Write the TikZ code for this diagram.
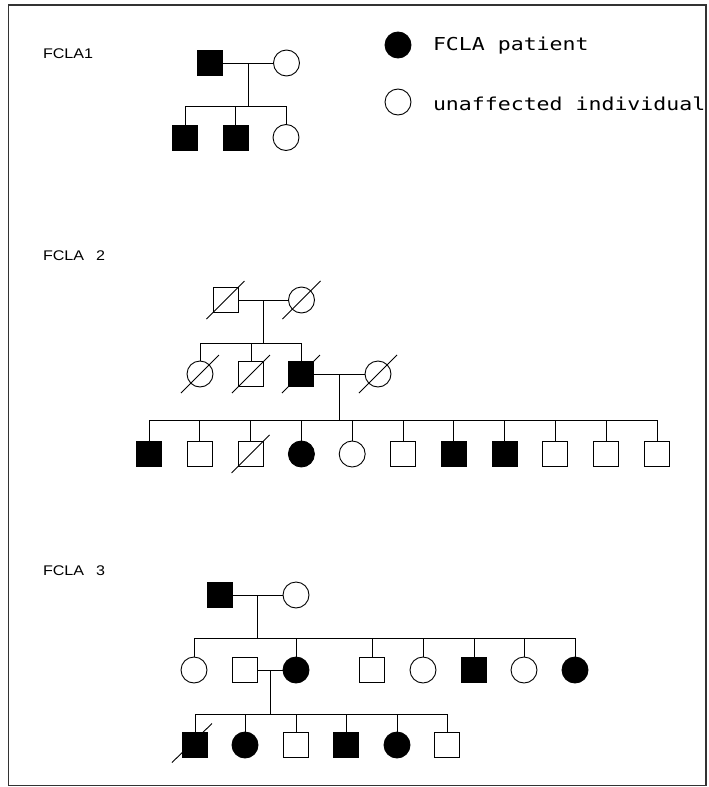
\documentclass[tikz,border=0pt]{standalone}
\usepackage{fontspec}
\newfontfamily\legfont[FakeStretch=1.21]{DejaVu Sans Mono}
\newfontfamily\labfont[FakeStretch=1.15]{Liberation Sans}
\usetikzlibrary{calc}
\newcommand\deadmark[1]{\draw[ln] ([shift={(-19,19)}]#1.center) -- ([shift={(19,-19)}]#1.center);}
\begin{document}
\begin{tikzpicture}[x=1pt,y=-1pt,
  every node/.style={inner sep=0pt, outer sep=0pt},
  person/.style={draw=black, line width=0.9pt},
  sq/.style={person, rectangle, minimum size=25pt},
  ci/.style={person, circle, minimum size=26pt},
  aff/.style={fill=black},
  ln/.style={line width=0.9pt},
  lab/.style={anchor=base west, font=\labfont\fontsize{14}{14}\selectfont},
  leg/.style={anchor=base west, font=\legfont\fontsize{17.8}{18}\selectfont}]
\useasboundingbox (0,0) rectangle (709,787);
\draw[line width=1.3pt, draw=black!80] (8.5,5) rectangle (706,785.5);

% ---------- FCLA1 ----------
\node[lab] (l1) at (43,58) {FCLA1};
\node[sq,aff] (a1) at (210,63) {};
\node[ci] (a2) at (286.5,63) {};
\node[sq,aff] (a3) at (185,137.5) {};
\node[sq,aff] (a4) at (235.5,137.5) {};
\node[ci] (a5) at (286,137.5) {};
\draw[ln] (a1.east) -- (a2.west);
\coordinate (am) at (248,63);
\coordinate (as) at (248,106);
\draw[ln] (am) -- (as);
\draw[ln] (a3.north |- as) -- (a5.north |- as);
\foreach \n in {a3,a4,a5} \draw[ln] (\n.north |- as) -- (\n.north);

% ---------- legend ----------
\node[ci,aff] (g1) at (398,45) {};
\node[leg] (gt1) at (433,50) {FCLA patient};
\node[ci] (g2) at (398,102) {};
\node[leg] (gt2) at (433,110) {unaffected individual};

% ---------- FCLA 2 ----------
\node[lab] (l2) at (43,260) {FCLA\hspace{12pt}2};
\node[sq] (b1) at (225.5,300) {};
\node[ci] (b2) at (301.5,300) {};
\node[ci] (b3) at (200,374) {};
\node[sq] (b4) at (251,374) {};
\node[sq,aff] (b5) at (301,374) {};
\node[ci] (b6) at (378,374) {};
\foreach \n in {b1,b2,b3,b4,b5,b6} \deadmark{\n}
\draw[ln] (b1.east) -- (b2.west);
\coordinate (bm) at (263,300);
\coordinate (bs) at (263,343);
\draw[ln] (bm) -- (bs);
\draw[ln] (b3.north |- bs) -- (b5.north |- bs);
\foreach \n in {b3,b4,b5} \draw[ln] (\n.north |- bs) -- (\n.north);
\draw[ln] (b5.east) -- (b6.west);
\coordinate (bm2) at (339,374);
\coordinate (bs2) at (339,420);
\draw[ln] (bm2) -- (bs2);
\node[sq,aff] (c1) at (149,454) {};
\node[sq] (c2) at (199.8,454) {};
\node[sq] (c3) at (250.6,454) {};
\node[ci,aff] (c4) at (301.4,454) {};
\node[ci] (c5) at (352.2,454) {};
\node[sq] (c6) at (403,454) {};
\node[sq,aff] (c7) at (453.8,454) {};
\node[sq,aff] (c8) at (504.6,454) {};
\node[sq] (c9) at (555.4,454) {};
\node[sq] (c10) at (606.2,454) {};
\node[sq] (c11) at (657,454) {};
\deadmark{c3}
\draw[ln] (c1.north |- bs2) -- (c11.north |- bs2);
\foreach \n in {c1,c2,c3,c4,c5,c6,c7,c8,c9,c10,c11} \draw[ln] (\n.north |- bs2) -- (\n.north);

% ---------- FCLA 3 ----------
\node[lab] (l3) at (43,575) {FCLA\hspace{12pt}3};
\node[sq,aff] (d1) at (220,595) {};
\node[ci] (d2) at (296,595) {};
\draw[ln] (d1.east) -- (d2.west);
\coordinate (dm) at (257,595);
\coordinate (ds) at (257,638);
\draw[ln] (dm) -- (ds);
\node[ci] (e1) at (194,670) {};
\node[sq] (e2) at (245,670) {};
\node[ci,aff] (e3) at (296,670) {};
\node[sq] (e4) at (372,670) {};
\node[ci] (e5) at (423,670) {};
\node[sq,aff] (e6) at (474,670) {};
\node[ci] (e7) at (524,670) {};
\node[ci,aff] (e8) at (575,670) {};
\draw[ln] (e1.north |- ds) -- (e8.north |- ds);
\foreach \n in {e1,e3,e4,e5,e6,e7,e8} \draw[ln] (\n.north |- ds) -- (\n.north);
\draw[ln] (e2.east) -- (e3.west);
\coordinate (em) at (270.5,670);
\coordinate (es) at (270.5,714);
\draw[ln] (em) -- (es);
\node[sq,aff] (f1) at (195,745) {};
\node[ci,aff] (f2) at (245,745) {};
\node[sq] (f3) at (296,745) {};
\node[sq,aff] (f4) at (346,745) {};
\node[ci,aff] (f5) at (397,745) {};
\node[sq] (f6) at (447,745) {};
\draw[ln] ([shift={(-23,17.5)}]f1.center) -- ([shift={(17,-21.5)}]f1.center);
\draw[ln] (f1.north |- es) -- (f6.north |- es);
\foreach \n in {f1,f2,f3,f4,f5,f6} \draw[ln] (\n.north |- es) -- (\n.north);
\end{tikzpicture}
\end{document}
